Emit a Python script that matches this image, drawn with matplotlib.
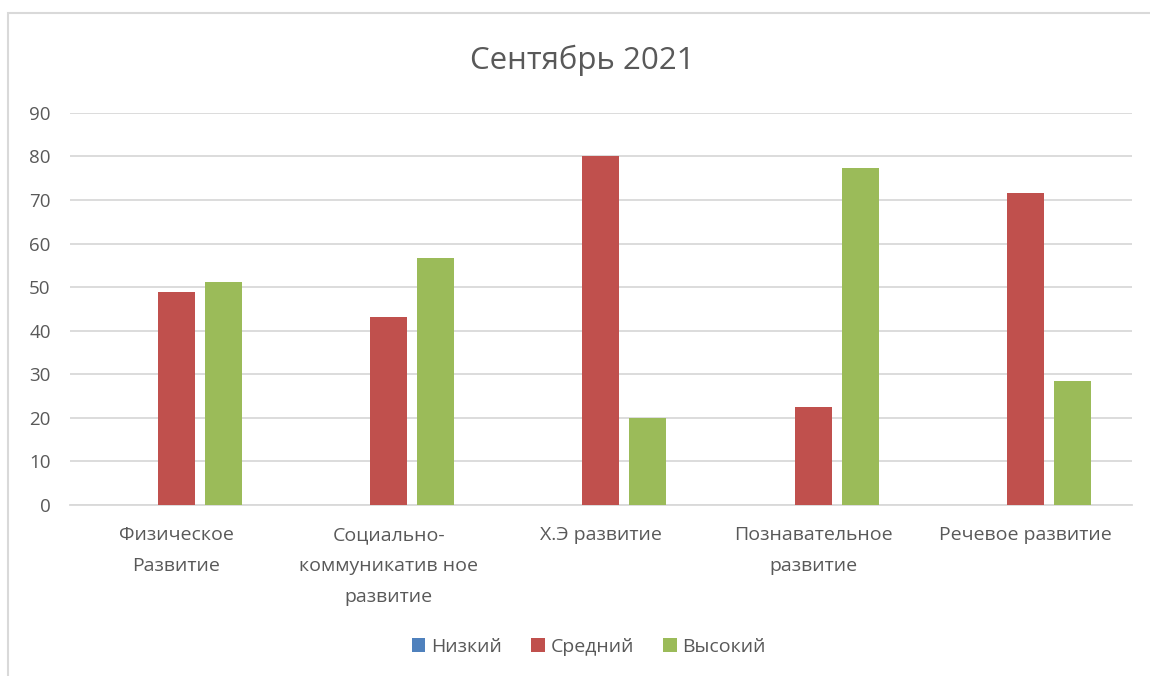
import numpy as np
import matplotlib
matplotlib.use('Agg')
import matplotlib.pyplot as plt
from matplotlib.patches import Rectangle

plt.rcParams['font.family'] = ['Open Sans', 'DejaVu Sans']

categories = ['Физическое\nРазвитие', 'Социально-\nкоммуникатив ное\nразвитие',
              'Х.Э развитие', 'Познавательное\nразвитие', 'Речевое развитие']
series_names = ['Низкий', 'Средний', 'Высокий']
low = [0, 0, 0, 0, 0]
mid = [48.9, 43.2, 80, 22.6, 71.6]
high = [51.1, 56.8, 20, 77.4, 28.4]
colors = ['#4f81bd', '#c0504d', '#9bbb59']
yticks = [0, 10, 20, 30, 40, 50, 60, 70, 80, 90]

text_col = '#595959'
grid_col = '#d9d9d9'

fig = plt.figure(figsize=(11.5, 6.76), dpi=100)
ax = fig.add_axes([0.061, 0.253, 0.923, 0.580])

# chart frame, cut off at right/bottom like the screenshot
fig.patches.append(Rectangle((8 / 1150, -0.1), 1.2, 1.1 - 13 / 676, transform=fig.transFigure,
                             fill=False, edgecolor=grid_col, linewidth=1.5))

x = np.arange(len(categories))
w = 0.174
step = 0.221
for i, (vals, name) in enumerate(zip([low, mid, high], series_names)):
    ax.bar(x + (i - 1) * step, vals, width=w, color=colors[i], label=name, zorder=3)

ax.set_xlim(-0.5, len(categories) - 0.5)
ax.set_ylim(0, 90)
ax.set_yticks(yticks)
ax.set_xticks(x)
ax.set_xticklabels(categories, fontsize=14, color=text_col, linespacing=1.92)
ax.tick_params(axis='y', labelsize=13.5, labelcolor=text_col, length=0, pad=14)
ax.tick_params(axis='x', length=0, pad=15)
ax.grid(axis='y', color=grid_col, linewidth=1.3, zorder=0)
for s in ['top', 'right', 'left']:
    ax.spines[s].set_visible(False)
ax.spines['bottom'].set_color(grid_col)
ax.spines['bottom'].set_linewidth(1.3)

fig.text(0.506, 0.91, 'Сентябрь 2021', ha='center', va='center', fontsize=22.5, color=text_col)

fig.legend(loc='center', bbox_to_anchor=(0.512, 0.043), ncol=3, frameon=False,
           fontsize=14, labelcolor=text_col, handlelength=0.7, handleheight=0.7,
           handletextpad=0.3, columnspacing=1.5)

fig.savefig('out.png', dpi=100)
